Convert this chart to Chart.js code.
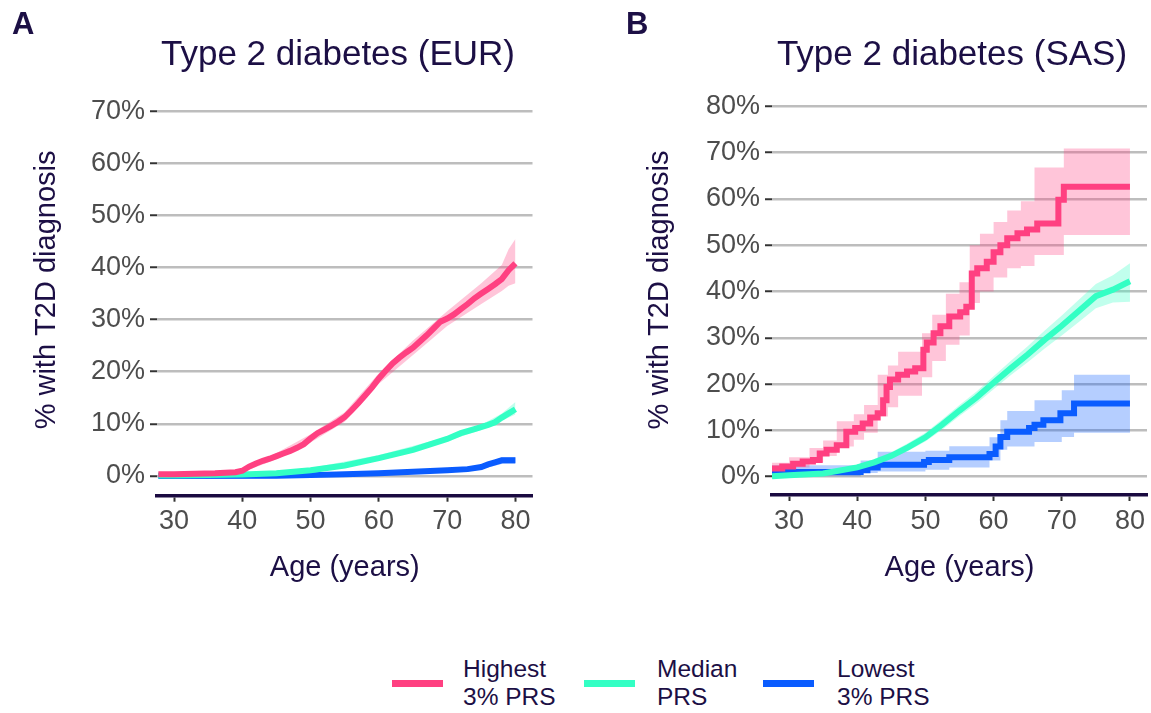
<!DOCTYPE html>
<html>
<head>
<meta charset="utf-8">
<script src="https://cdn.jsdelivr.net/npm/chart.js@4"></script>
<style>
  body { margin: 0; background: #fff; width: 1151px; height: 713px; position: relative; overflow: hidden;
         font-family: 'Liberation Sans', Arial, sans-serif; color: #1c0f45; }
  canvas { position: absolute; top: 0; }
  .tag { position: absolute; font-weight: bold; font-size: 31px; }
  .title { position: absolute; top: 33px; width: 500px; text-align: center; font-size: 35px; line-height: 40px; white-space: nowrap; }
  .key { position: absolute; height: 7px; top: 679.5px; width: 51px; }
  .lab { position: absolute; font-size: 24.5px; line-height: 27.7px; top: 655px; white-space: nowrap; }
</style>
</head>
<body>
<canvas id="panelA" width="575" height="610" style="left:0"></canvas>
<canvas id="panelB" width="576" height="610" style="left:575px"></canvas>
<div class="tag" style="left:12px; top:6px">A</div>
<div class="tag" style="left:626px; top:6px">B</div>
<div class="title" style="left:88px">Type 2 diabetes (EUR)</div>
<div class="title" style="left:702px">Type 2 diabetes (SAS)</div>

<div class="key" style="left:392px; background:#ff4081"></div>
<div class="lab" style="left:463px">Highest<br>3% PRS</div>
<div class="key" style="left:584px; background:#33ffc4"></div>
<div class="lab" style="left:657px">Median<br>PRS</div>
<div class="key" style="left:763px; background:#0a5cff"></div>
<div class="lab" style="left:837px">Lowest<br>3% PRS</div>

<script>
console.log('panels loading');

const xTicks = [30, 40, 50, 60, 70, 80];
const yTicksA = [0, 10, 20, 30, 40, 50, 60, 70];
const yTicksB = [0, 10, 20, 30, 40, 50, 60, 70, 80];

// ---- EUR (panel A) ----
const eurHighAge = [27.7, 30, 33, 36, 39, 40, 41, 42, 43, 44, 45, 46, 47, 48, 49, 50, 51, 52, 53, 54, 55, 56, 57, 58, 59, 60, 61, 62, 63, 64, 65, 66, 67, 68, 69, 70, 71, 72, 73, 74, 75, 76, 77, 78, 79, 80];
const eurHigh = [0.3, 0.3, 0.4, 0.5, 0.7, 1.0, 1.8, 2.4, 2.9, 3.3, 3.8, 4.3, 4.8, 5.4, 6.1, 7.2, 8.2, 8.9, 9.6, 10.4, 11.3, 12.6, 14.0, 15.5, 17.0, 18.7, 20.2, 21.6, 22.7, 23.7, 24.6, 25.8, 27.0, 28.3, 29.6, 30.2, 31.0, 32.0, 33.0, 34.1, 35.0, 35.9, 36.8, 37.8, 39.5, 40.8];
const eurHighBandAge = [27.7, 35, 40, 45, 50, 55, 60, 65, 70, 75, 78, 79, 80];
const eurHighUpper = [0.4, 0.6, 1.3, 4.4, 8.0, 12.2, 19.7, 26.0, 31.6, 37.0, 40.5, 43.5, 45.5];
const eurHighLower = [0.1, 0.3, 0.7, 3.2, 6.4, 10.4, 17.7, 23.2, 28.8, 33.0, 35.5, 36.5, 37.0];

const eurMedAge = [27.7, 30, 35, 40, 45, 50, 55, 60, 65, 70, 72, 74, 76, 77, 78, 79, 80];
const eurMed = [0.1, 0.1, 0.15, 0.25, 0.5, 1.1, 2.0, 3.4, 5.0, 7.1, 8.2, 9.0, 9.8, 10.3, 11.2, 12.0, 12.8];
const eurMedBandAge = [27.7, 40, 50, 60, 70, 75, 78, 80];
const eurMedUpper = [0.15, 0.4, 1.5, 4.0, 7.5, 9.8, 12.0, 14.2];
const eurMedLower = [0.05, 0.15, 1.1, 3.4, 6.7, 8.8, 10.6, 11.8];

const eurLowAge = [27.7, 45, 50, 55, 60, 65, 70, 73, 75, 76, 77, 78, 80];
const eurLow = [0, 0.05, 0.15, 0.3, 0.5, 0.8, 1.1, 1.3, 1.7, 2.2, 2.6, 3.0, 3.0];
const eurLowBandAge = [27.7, 50, 60, 70, 75, 78, 80];
const eurLowUpper = [0.05, 0.25, 0.7, 1.4, 2.1, 3.6, 3.6];
const eurLowLower = [0, 0.05, 0.35, 0.8, 1.3, 2.3, 2.3];

// ---- SAS (panel B) ----
const sasHighAge = [27.5, 29, 30.6, 32, 33.5, 34.5, 35.5, 37, 38.4, 39.7, 40.8, 41.9, 43, 43.8, 44.3, 44.8, 46, 47.3, 48.5, 49.7, 50.2, 51.2, 52.2, 53.5, 55.1, 56, 56.8, 57.6, 59, 60, 61, 62, 63.5, 64.9, 66.4, 69.5, 70.3, 74.7, 80];
const sasHigh = [1.4, 1.8, 2.2, 2.8, 3.3, 3.6, 5.0, 5.8, 6.8, 9.7, 10.5, 11.5, 12.8, 13.7, 16.5, 19.4, 21.0, 22.0, 22.7, 23.4, 27.4, 29.0, 31.0, 32.5, 34.6, 35.5, 36.7, 43.9, 45.0, 46.4, 48.5, 50.0, 51.5, 52.6, 53.4, 54.7, 59.8, 62.6, 62.6];
const sasHighBandAge = [27.5, 30, 33, 35, 37, 39.5, 41, 43, 44.5, 46, 49.5, 51, 53, 55, 56.5, 58, 60, 62, 64, 66, 70.3, 74.7, 80];
const sasHighUpper = [2.6, 3.0, 4.2, 6.2, 7.8, 12.0, 13.5, 15.5, 22.0, 24.0, 27.0, 31.0, 35.0, 39.5, 42.0, 50.0, 52.5, 55.0, 57.5, 59.5, 66.8, 70.9, 70.9];
const sasHighLower = [0.4, 1.0, 2.0, 3.2, 4.5, 6.5, 8.0, 9.5, 13.0, 15.0, 17.5, 21.5, 25.0, 28.5, 30.5, 37.5, 40.0, 43.0, 45.0, 45.5, 47.9, 52.2, 52.2];

const sasMedAge = [27.5, 30, 35, 40, 42.5, 45, 47.5, 50, 52.5, 55, 57.5, 60, 62.5, 65, 67.5, 70, 72.5, 75, 77.5, 80];
const sasMed = [0.1, 0.3, 0.7, 2.0, 3.1, 4.5, 6.4, 8.5, 11.3, 14.3, 17.1, 20.3, 23.4, 26.4, 29.6, 32.6, 35.8, 39.0, 40.4, 42.2];
const sasMedUpper = [0.2, 0.5, 1.1, 2.6, 3.8, 5.3, 7.3, 9.5, 12.4, 15.5, 18.4, 21.7, 25.0, 28.2, 31.6, 34.8, 38.2, 41.6, 43.5, 46.1];
const sasMedLower = [0, 0.1, 0.4, 1.5, 2.5, 3.8, 5.6, 7.6, 10.2, 13.1, 15.8, 18.9, 21.9, 24.7, 27.7, 30.5, 33.4, 36.4, 37.6, 37.8];

const sasLowAge = [27.5, 40.5, 41.5, 43, 49.8, 50.5, 53.5, 59.4, 60.3, 61, 62, 65.2, 66, 67.3, 69.8, 71.8, 73.7, 80];
const sasLow = [0, 1.0, 1.4, 2.0, 2.6, 3.2, 3.6, 4.2, 4.9, 6.5, 8.6, 9.7, 10.5, 11.2, 12.2, 13.7, 15.8, 15.8];
const sasLowBandAge = [27.5, 40.5, 43, 50, 53.5, 59.4, 61, 62, 66, 70, 71.8, 73.7, 80];
const sasLowUpper = [0.2, 2.5, 3.5, 5.4, 5.6, 6.6, 8.5, 12.2, 14.2, 16.5, 18.7, 22.0, 22.0];
const sasLowLower = [0, 0.1, 0.8, 1.1, 1.5, 2.0, 3.5, 5.8, 6.5, 7.5, 8.6, 9.5, 9.5];

const RED = '#ff4081', GREEN = '#33ffc4', BLUE = '#0a5cff';
const RED_BAND = 'rgba(255, 64, 129, 0.3)';
const GREEN_BAND = 'rgba(51, 255, 196, 0.3)';
const BLUE_BAND = 'rgba(10, 92, 255, 0.3)';
const FONT = "'Liberation Sans', Arial, sans-serif";
const NAVY = '#1c0f45';

function pts(xs, ys) {
  return xs.map((x, i) => ({ x: x, y: ys[i] }));
}
function line(xs, ys, color, stepped) {
  return { data: pts(xs, ys), borderColor: color, borderWidth: 6, pointRadius: 0, fill: false, stepped: stepped };
}
function band(xs, up, lo, color, stepped) {
  return [
    { data: pts(xs, up), borderWidth: 0, borderColor: 'rgba(0,0,0,0)', backgroundColor: color, pointRadius: 0, fill: '+1', stepped: stepped },
    { data: pts(xs, lo), borderWidth: 0, borderColor: 'rgba(0,0,0,0)', pointRadius: 0, fill: false, stepped: stepped }
  ];
}

function makePanel(id, p) {
  return new Chart(document.getElementById(id), {
    type: 'line',
    data: { datasets: p.datasets },
    options: {
      responsive: false,
      animation: false,
      devicePixelRatio: 1,
      layout: { padding: { left: 0, right: p.padRight, top: p.padTop, bottom: 0 } },
      plugins: {
        legend: { display: false },
        tooltip: { enabled: false }
      },
      scales: {
        x: {
          type: 'linear', min: 27.5, max: 82.5,
          afterBuildTicks: s => { s.ticks = xTicks.map(v => ({ value: v })); },
          afterFit: s => { s.height = p.xHeight; },
          grid: { drawOnChartArea: false, drawTicks: true, tickLength: 6, tickColor: '#333', tickWidth: 2 },
          border: { display: true, color: '#1a0a40', width: 3.5 },
          ticks: { color: '#4d4d4d', font: { family: FONT, size: 27 }, padding: 4, maxRotation: 0 },
          title: { display: true, text: 'Age (years)', color: NAVY, font: { family: FONT, size: 29 }, padding: { top: 0, bottom: 25 } }
        },
        y: {
          min: p.yMin, max: p.yMax,
          afterBuildTicks: s => { s.ticks = p.yTicks.map(v => ({ value: v })); },
          afterFit: s => { s.width = p.yWidth; },
          grid: { color: '#bdbdbd', lineWidth: 2.5, tickLength: 7, tickColor: '#333', tickWidth: 2 },
          border: { display: false },
          ticks: { color: '#4d4d4d', font: { family: FONT, size: 27 }, padding: 5, callback: v => v + '%' },
          title: { display: true, text: '% with T2D diagnosis', color: NAVY, font: { family: FONT, size: 29 }, padding: { top: p.yTitlePad, bottom: 0 } }
        }
      }
    }
  });
}

makePanel('panelA', {
  padRight: 42.5, padTop: 84.2, yWidth: 157, xHeight: 114.3, yTitlePad: 29.6,
  yMin: -3.8, yMax: 75.2, yTicks: yTicksA,
  datasets: [
    line(eurHighAge, eurHigh, RED, false),
    line(eurMedAge, eurMed, GREEN, false),
    line(eurLowAge, eurLow, BLUE, false),
    ...band(eurHighBandAge, eurHighUpper, eurHighLower, RED_BAND, false),
    ...band(eurMedBandAge, eurMedUpper, eurMedLower, GREEN_BAND, false),
    ...band(eurLowBandAge, eurLowUpper, eurLowLower, BLUE_BAND, false)
  ]
});

makePanel('panelB', {
  padRight: 4, padTop: 85, yWidth: 197, xHeight: 115, yTitlePad: 67.6,
  yMin: -3.95, yMax: 84.6, yTicks: yTicksB,
  datasets: [
    line(sasHighAge, sasHigh, RED, 'after'),
    line(sasMedAge, sasMed, GREEN, false),
    line(sasLowAge, sasLow, BLUE, 'after'),
    ...band(sasHighBandAge, sasHighUpper, sasHighLower, RED_BAND, 'after'),
    ...band(sasMedAge, sasMedUpper, sasMedLower, GREEN_BAND, false),
    ...band(sasLowBandAge, sasLowUpper, sasLowLower, BLUE_BAND, 'after')
  ]
});
</script>
</body>
</html>
